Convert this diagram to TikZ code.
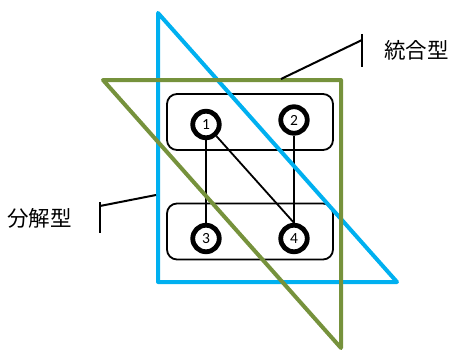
\documentclass[tikz,border=0pt]{standalone}
\usepackage{fontspec}
\newfontfamily\jpfont{Noto Sans CJK JP}
\newfontfamily\numfont{Carlito}
\definecolor{triblue}{RGB}{0, 176, 240}
\definecolor{trigreen}{RGB}{118, 146, 60}
\usetikzlibrary{positioning}

\begin{document}
\begin{tikzpicture}[x=1pt, y=-1pt,
  elem/.style={circle, draw, line width=4.8pt, fill=white, minimum size=26.5pt, inner sep=0pt, font=\numfont\fontsize{15.5}{16}\selectfont},
  pairbox/.style={draw, line width=1.8pt, rounded corners=10pt, minimum width=166pt, minimum height=56pt},
  link/.style={line width=1.8pt},
  leader/.style={line width=2pt},
  tri/.style={line width=4pt, line join=round},
  jplabel/.style={anchor=west, inner sep=0pt, font=\jpfont\fontsize{21.5}{22}\selectfont}]
  \useasboundingbox (0, 0) rectangle (449, 353);

  % Groups
  \node[pairbox] (upper) at (250, 122) {};
  \node[pairbox] (lower) at (250, 231.5) {};

  % Elements
  \node[elem] (e1) at (206, 124.5) {1};
  \node[elem] (e2) at (294, 120) {2};
  \node[elem] (e3) at (206, 238.5) {3};
  \node[elem] (e4) at (294, 238.5) {4};

  % Links
  \draw[link] (e1) -- (e3);
  \draw[link] (e2) -- (e4);
  \draw[link] (e1) -- (e4.north);

  % Triangles
  \draw[tri, triblue] (158, 13) -- (158, 282) -- (397, 282) -- cycle;
  \draw[tri, trigreen] (103, 80) -- (341, 80) -- (341, 348) -- cycle;

  % Labels
  \node[jplabel] (merge) at (384, 50) {統合型};
  \node[jplabel] (split) at (7, 218) {分解型};

  % Leaders
  \coordinate (mergeA) at (281, 79);
  \coordinate (mergeB) at (362, 40);
  \draw[leader] (mergeA) -- (mergeB);
  \draw[leader] (362, 34) -- (362, 67);

  \coordinate (splitA) at (156, 195);
  \coordinate (splitB) at (100, 206);
  \draw[leader] (splitA) -- (splitB);
  \draw[leader] (100, 202) -- (100, 233);
\end{tikzpicture}
\end{document}
